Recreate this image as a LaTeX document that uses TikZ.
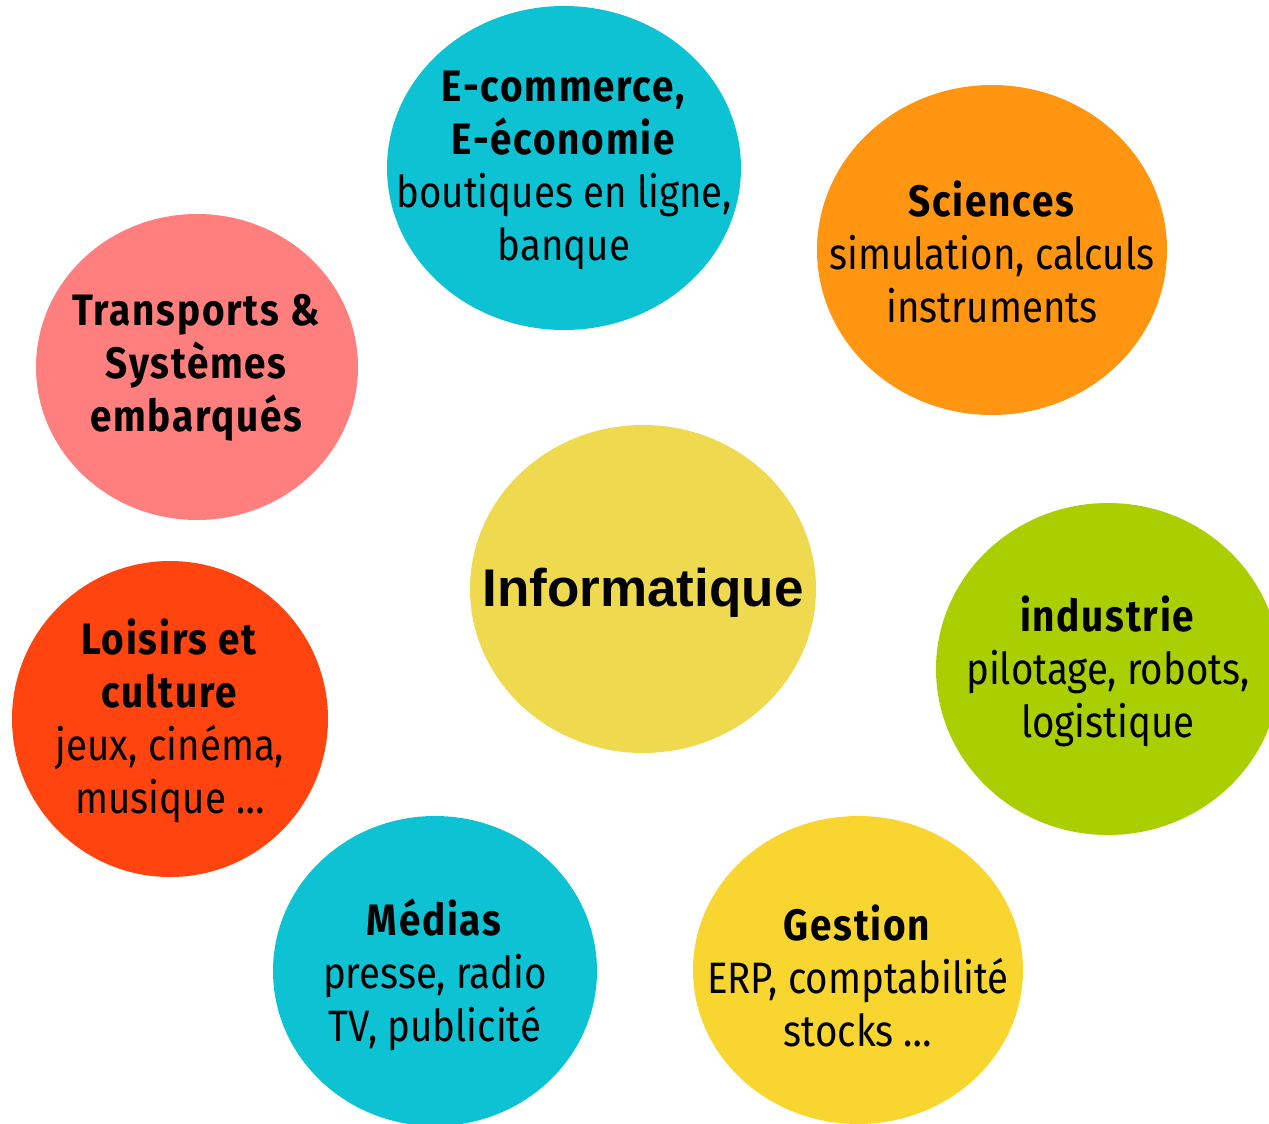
\documentclass[tikz,border=0pt]{standalone}
\usepackage{fontspec}
\setmainfont{Fira Sans}[FakeStretch=0.875,BoldFeatures={FakeStretch=0.88,LetterSpace=4}]
\newfontfamily\arialfont{Liberation Sans}
\usetikzlibrary{shapes}
\definecolor{cyanbl}{HTML}{0DC3D3}
\definecolor{orangesc}{HTML}{FF9510}
\definecolor{pinktr}{HTML}{FF7F7F}
\definecolor{yellowinf}{HTML}{EFD94F}
\definecolor{greenind}{HTML}{AACF00}
\definecolor{redlo}{HTML}{FF4410}
\definecolor{yellowge}{HTML}{F9D530}

\begin{document}
\begin{tikzpicture}[x=1pt,y=-1pt,txt/.style={inner sep=0pt,align=center,font=\fontsize{44}{53}\selectfont}]

        \useasboundingbox (0,0) rectangle (1269,1124);
        \begin{scope}
        \clip (0,0) rectangle (1269,1124);

        \fill[cyanbl] (564,168) ellipse (177 and 162);
        \fill[orangesc] (992,250) ellipse (175 and 165);
        \fill[pinktr] (197,367) ellipse (161 and 153);
        \fill[yellowinf] (643,589) ellipse (173 and 164);
        \fill[greenind] (1108,669) ellipse (172 and 166);
        \fill[redlo] (170,719) ellipse (158 and 158);
        \fill[cyanbl] (435,971) ellipse (162 and 155);
        \fill[yellowge] (858,970) ellipse (165 and 154);

        \node[txt] (ecom) at (564,170) {\textbf{E-commerce,}\\\textbf{E-économie}\\boutiques en ligne,\\banque};
        \node[txt] (sci) at (992,252) {\textbf{Sciences}\\simulation, calculs\\instruments};
        \node[txt] (trans) at (197,368) {\textbf{Transports \&}\\\textbf{Systèmes}\\\textbf{embarqués}};
        \node[txt,font=\arialfont\bfseries\fontsize{53}{60}\selectfont] (info) at (643,593) {Informatique};
        \node[txt] (ind) at (1108,671) {\textbf{industrie}\\pilotage, robots,\\logistique};
        \node[txt] (loi) at (170,721) {\textbf{Loisirs et}\\\textbf{culture}\\jeux, cinéma,\\musique \dots};
        \node[txt] (med) at (435,975) {\textbf{Médias}\\presse, radio\\TV, publicité};
        \node[txt] (ges) at (858,976) {\textbf{Gestion}\\ERP, comptabilité\\stocks \dots};

        \end{scope}
        \end{tikzpicture}
\end{document}
